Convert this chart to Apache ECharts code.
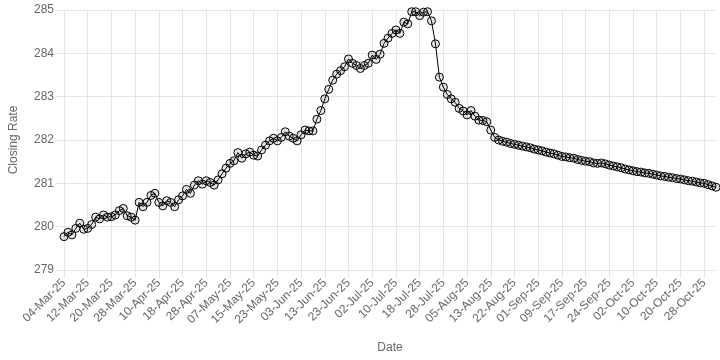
<!DOCTYPE html>
<html><head><meta charset="utf-8">
<script src="https://cdn.jsdelivr.net/npm/echarts@6/dist/echarts.min.js"></script>
<style>html,body{margin:0;padding:0;background:#fff}#c{width:720px;height:360px}</style>
</head><body><div id="c"></div>
<script>
// Business-day calendar for the series
const startDate = '2025-03-04';
const endDate = '2025-10-31';
const holidays = ['2025-03-31','2025-04-01','2025-04-02','2025-05-01','2025-05-28','2025-06-06','2025-06-09','2025-07-01','2025-08-14'];
const extraDays = ['2025-09-20'];

const closingRate = [
279.77, 279.87, 279.81, 279.96, 280.08, 279.94, 279.96, 280.05, 280.22, 280.18,
280.27, 280.22, 280.23, 280.27, 280.37, 280.42, 280.25, 280.22, 280.15, 280.56,
280.46, 280.56, 280.72, 280.77, 280.56, 280.48, 280.60, 280.56, 280.46, 280.62,
280.71, 280.86, 280.77, 280.96, 281.06, 280.98, 281.06, 281.02, 280.96, 281.08,
281.22, 281.35, 281.46, 281.52, 281.71, 281.58, 281.68,
281.72, 281.65, 281.63, 281.77, 281.88, 281.98, 282.04, 281.98, 282.06, 282.19,
282.09, 282.04, 281.98, 282.12, 282.23, 282.21, 282.21, 282.48, 282.68, 282.95,
283.17, 283.38, 283.52, 283.60, 283.69,
283.87, 283.77, 283.72, 283.65, 283.72, 283.77, 283.96, 283.86, 283.98, 284.23,
284.35, 284.46, 284.54, 284.46, 284.72, 284.68, 284.96, 284.96, 284.87, 284.95,
284.96, 284.75, 284.22, 283.45,
283.22, 283.05, 282.95, 282.87, 282.73, 282.67, 282.58, 282.68, 282.55, 282.46,
282.45, 282.42, 282.23,
282.06, 282.00, 281.97, 281.95, 281.92, 281.90, 281.88, 281.86, 281.84, 281.82,
281.79, 281.77, 281.75, 281.72, 281.70, 281.68, 281.65, 281.62, 281.61, 281.59,
281.58, 281.55, 281.53, 281.51, 281.50, 281.47, 281.46, 281.47, 281.45, 281.42,
281.40, 281.38, 281.36, 281.33, 281.31, 281.29, 281.27, 281.26, 281.24, 281.23,
281.21, 281.19, 281.17, 281.16, 281.14, 281.13, 281.11, 281.10, 281.08, 281.06,
281.05, 281.03, 281.01, 281.00, 280.97, 280.94, 280.91
];

const yMin = 279, yMax = 285, yStep = 1;

const MON = ['Jan','Feb','Mar','Apr','May','Jun','Jul','Aug','Sep','Oct','Nov','Dec'];
function buildDates() {
  const out = [];
  const toKey = d => d.toISOString().slice(0, 10);
  let d = new Date(startDate + 'T00:00:00Z');
  const end = new Date(endDate + 'T00:00:00Z');
  while (d <= end) {
    const k = toKey(d), wd = d.getUTCDay();
    if ((wd !== 0 && wd !== 6 && holidays.indexOf(k) < 0) || extraDays.indexOf(k) >= 0) {
      const dd = String(d.getUTCDate()).padStart(2, '0');
      out.push(dd + '-' + MON[d.getUTCMonth()] + '-' + String(d.getUTCFullYear()).slice(2));
    }
    d = new Date(d.getTime() + 86400000);
  }
  return out;
}
const dates = buildDates();

const txt = '#666';
const gridCol = '#e5e5e5';
const font = 'Liberation Sans, Arial, Helvetica, sans-serif';

const chart = echarts.init(document.getElementById('c'), null, {renderer: 'canvas'});
chart.setOption({
  animation: false,
  grid: {left: 56, right: 4, top: 10, bottom: 90, containLabel: false},
  xAxis: {
    type: 'category', data: dates, boundaryGap: false,
    name: 'Date', nameLocation: 'middle', nameGap: 72,
    nameTextStyle: {color: txt, fontSize: 12, fontFamily: font},
    axisLine: {show: true, lineStyle: {color: gridCol}},
    axisTick: {show: true, interval: 5, length: 8, lineStyle: {color: gridCol}},
    splitLine: {show: true, interval: 5, lineStyle: {color: gridCol}},
    axisLabel: {interval: 5, rotate: 45, color: txt, fontSize: 12, fontFamily: font, margin: 11}
  },
  yAxis: {
    type: 'value', min: yMin, max: yMax, interval: yStep,
    name: 'Closing Rate', nameLocation: 'middle', nameGap: 44,
    nameTextStyle: {color: txt, fontSize: 12, fontFamily: font},
    axisLine: {show: true, lineStyle: {color: gridCol}},
    axisTick: {show: true, length: 8, lineStyle: {color: gridCol}},
    splitLine: {show: true, lineStyle: {color: gridCol}},
    axisLabel: {color: txt, fontSize: 12, fontFamily: font, margin: 10}
  },
  series: [{
    type: 'line', data: closingRate, clip: false,
    symbol: 'circle', symbolSize: 8, showAllSymbol: true,
    lineStyle: {color: '#000', width: 1},
    itemStyle: {color: 'rgba(0,0,0,0.1)', borderColor: '#000', borderWidth: 1}
  }]
});
</script></body></html>
